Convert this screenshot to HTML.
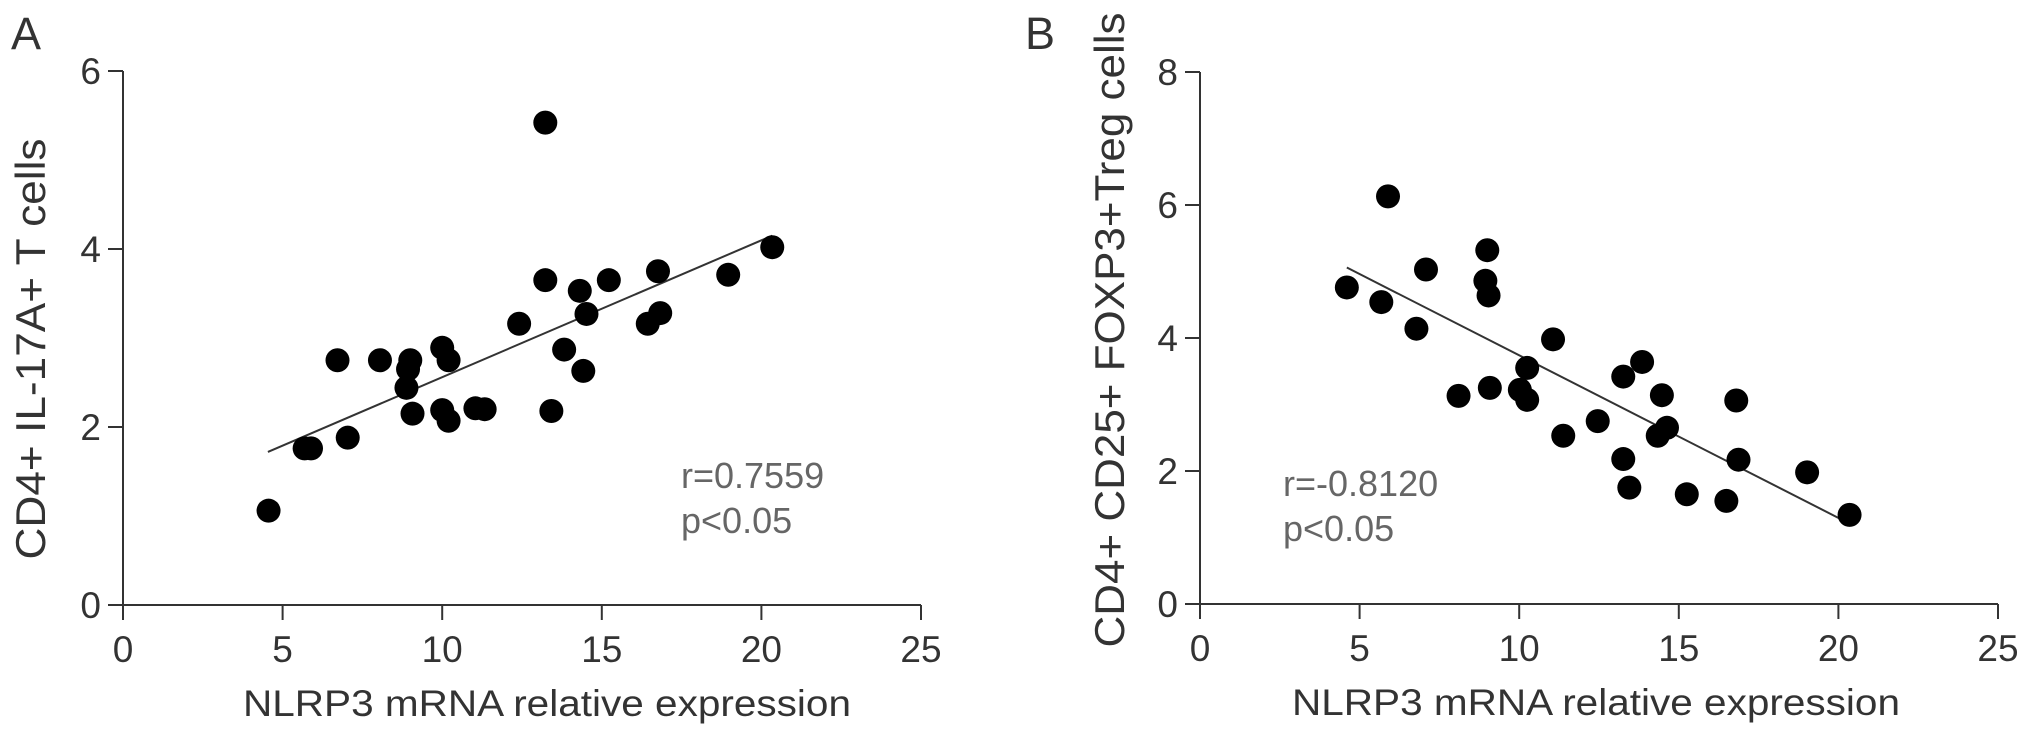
<!DOCTYPE html>
<html><head><meta charset="utf-8"><style>
html,body{margin:0;padding:0;background:#fff;}
svg{display:block;font-family:"Liberation Sans",sans-serif;}
</style></head><body>
<svg id="chart" width="2031" height="738" viewBox="0 0 2031 738">
<text x="11" y="49" font-size="45" fill="#333">A</text>
<text x="1025" y="49" font-size="45" fill="#333">B</text>
<g id="pa"></g>
<g id="pb"></g>
</svg>
<script>
const xTicks = [0, 5, 10, 15, 20, 25];
const aYTicks = [0, 2, 4, 6];
const bYTicks = [0, 2, 4, 6, 8];
const aX = [4.56,5.69,5.89,7.04,6.72,8.05,9.0,8.93,8.88,9.07,10.0,10.2,10.0,10.2,11.04,11.33,12.41,13.23,13.23,13.42,13.82,14.31,14.52,14.42,15.22,16.44,16.83,16.76,18.96,20.34];
const aY = [1.06,1.76,1.76,1.88,2.75,2.75,2.75,2.65,2.44,2.15,2.89,2.75,2.19,2.07,2.21,2.20,3.16,5.42,3.65,2.18,2.87,3.53,3.27,2.63,3.65,3.16,3.28,3.75,3.71,4.02];
const aLine = [[4.54,1.72],[20.34,4.15]];
const bX = [4.60,5.89,7.08,5.68,6.78,9.0,8.94,9.04,11.06,10.25,8.10,9.08,10.02,10.25,13.85,13.26,14.47,16.8,12.46,11.38,14.63,14.34,13.26,13.45,16.87,15.25,16.49,19.02,20.35];
const bY = [4.76,6.13,5.03,4.54,4.14,5.32,4.86,4.64,3.98,3.55,3.13,3.25,3.22,3.07,3.64,3.42,3.14,3.06,2.75,2.53,2.65,2.53,2.18,1.75,2.17,1.65,1.55,1.98,1.34];
const bLine = [[4.6,5.06],[20.02,1.29]];

const NS = "http://www.w3.org/2000/svg";
function mk(parent, tag, attrs, txt){
  const e = document.createElementNS(NS, tag);
  for (const k in attrs) e.setAttribute(k, attrs[k]);
  if (txt !== undefined) e.textContent = txt;
  parent.appendChild(e);
  return e;
}
function panel(gid, ox, oy, top, xmax, ymax, yTicks, xs, ys, line, yTitle, yTitleX, yTitleY, yTitleLen, xTitleX, stats, statX, statY){
  const g = document.getElementById(gid);
  const xw = 798;
  const sx = v => ox + v / xmax * xw;
  const sy = v => oy - v / ymax * (oy - top);
  let e;
  e = mk(g, "line", {x1: ox, y1: oy, x2: ox + xw, y2: oy, stroke: "#333", "stroke-width": 2});
  
  
  e = mk(g, "line", {x1: ox, y1: oy, x2: ox, y2: top, stroke: "#333", "stroke-width": 2});
  
  
  xTicks.forEach(t => {
    e = mk(g, "line", {x1: sx(t), y1: oy, x2: sx(t), y2: oy + 15, stroke: "#333", "stroke-width": 2});
    
    
    e = mk(g, "text", {x: sx(t), y: oy + 57, "font-size": 37, fill: "#333", "text-anchor": "middle"}, String(t));
    
    
  });
  yTicks.forEach(t => {
    e = mk(g, "line", {x1: ox - 15, y1: sy(t), x2: ox, y2: sy(t), stroke: "#333", "stroke-width": 2});
    
    
    e = mk(g, "text", {x: ox - 22, y: sy(t) + 13, "font-size": 37, fill: "#333", "text-anchor": "end"}, String(t));
    
    
  });
  e = mk(g, "line", {x1: sx(line[0][0]), y1: sy(line[0][1]), x2: sx(line[1][0]), y2: sy(line[1][1]), stroke: "#333", "stroke-width": 2});
  
  
  xs.forEach((v, i) => {
    e = mk(g, "circle", {cx: sx(v), cy: sy(ys[i]), r: 12, fill: "#000"});
    
    
  });
  e = mk(g, "text", {x: xTitleX, y: oy + 111, "font-size": 37, fill: "#333", textLength: 608, lengthAdjust: "spacingAndGlyphs"}, "NLRP3 mRNA relative expression");
  
  
  e = mk(g, "text", {x: 0, y: 0, "font-size": 42, fill: "#333", "text-anchor": "middle", textLength: yTitleLen, lengthAdjust: "spacingAndGlyphs", transform: "translate(" + (yTitleX + 15) + "," + yTitleY + ") rotate(-90)"}, yTitle);
  
  
  e = mk(g, "text", {x: statX, y: statY, "font-size": 36, fill: "#666"}, stats[0]);
  
  
  e = mk(g, "text", {x: statX, y: statY + 45, "font-size": 36, fill: "#666"}, stats[1]);
  
  
}
panel("pa", 123, 605, 71, 25, 6, aYTicks, aX, aY, aLine, "CD4+ IL-17A+ T cells", 30, 349, 421, 243, ["r=0.7559", "p<0.05"], 681, 488);
panel("pb", 1200, 604, 72, 25, 8, bYTicks, bX, bY, bLine, "CD4+ CD25+ FOXP3+Treg cells", 1109, 330, 635, 1292, ["r=-0.8120", "p<0.05"], 1283, 496);
</script>
</body></html>
